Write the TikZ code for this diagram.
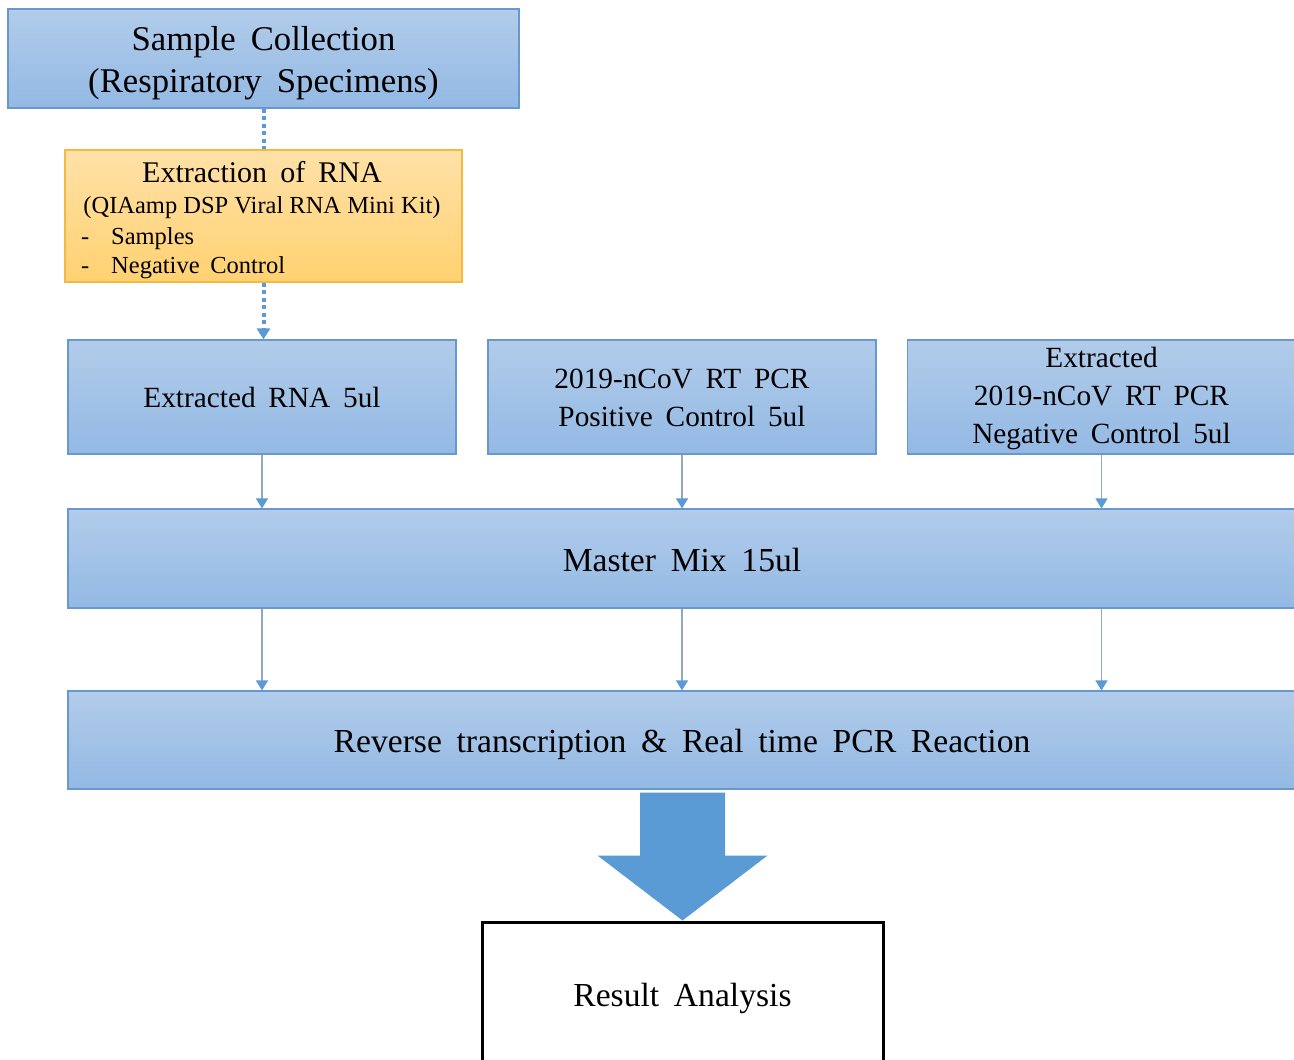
\documentclass[tikz,border=0pt]{standalone}
\usepackage{fontspec}
\setmainfont{Liberation Serif}[WordSpace=1.75]
\newfontfamily\plainserif{Liberation Serif}
\usetikzlibrary{arrows.meta,calc}
\definecolor{boxtop}{RGB}{178,204,234}
\definecolor{boxbot}{RGB}{147,185,228}
\definecolor{boxline}{RGB}{104,152,206}
\definecolor{orgtop}{RGB}{255,225,168}
\definecolor{orgbot}{RGB}{255,209,112}
\definecolor{orgline}{RGB}{244,185,66}
\definecolor{ablue}{RGB}{91,155,213}
\definecolor{cline}{RGB}{145,168,192}
\begin{document}
\begin{tikzpicture}[x=1pt,y=-1pt,
  bluebox/.style={draw=boxline,line width=1.1pt,top color=boxtop,bottom color=boxbot,inner sep=0pt},
  orgbox/.style={draw=orgline,line width=1.1pt,top color=orgtop,bottom color=orgbot,inner sep=0pt},
  boxtxt/.style={inner sep=0pt,align=center,text=black,anchor=center},
  dotconn/.style={ablue,line width=4pt,dash pattern=on 4pt off 3.5pt},
  thinconn/.style={cline,line width=1.2pt,-{Triangle[width=12pt,length=10pt,color=ablue,fill=ablue]}},
  fbig/.style={font=\fontsize{34.7}{42}\selectfont},
  fmid/.style={font=\fontsize{33.6}{40}\selectfont},
  frow/.style={font=\fontsize{29.3}{37.5}\selectfont},
  frow3/.style={font=\fontsize{29.3}{38}\selectfont},
  fsub/.style={font=\fontsize{24.5}{29}\selectfont},
  txt/.style={inner sep=0pt,anchor=base}]
\useasboundingbox (0,0) rectangle (1294,1060);
\fill[white] (0,0) rectangle (1294,1060);

% boxes
\node[bluebox,minimum width=511pt,minimum height=99pt] (sample) at (263.5,58.5) {};
\node[boxtxt,fbig] (sampletxt) at ($(sample.center)+(0,4.5)$) {Sample Collection\\(Respiratory Specimens)};

\node[orgbox,minimum width=397pt,minimum height=132pt] (extract) at (263.5,216) {};
\node[txt,font=\fontsize{30}{34}\selectfont] (extitle) at (262,182) {Extraction of RNA};
\node[txt,fsub] (exkit) at (262,213) {\plainserif (QIAamp DSP Viral RNA Mini Kit)};
\node[txt,fsub,anchor=base west] (exs1) at (81,244) {\makebox[30pt][l]{-}Samples};
\node[txt,fsub,anchor=base west] (exs2) at (81,273) {\makebox[30pt][l]{-}Negative Control};

\node[bluebox,minimum width=388pt,minimum height=114pt] (b1) at (262,397) {};
\node[bluebox,minimum width=388pt,minimum height=114pt] (b2) at (682,397) {};
\node[bluebox,minimum width=388pt,minimum height=114pt] (b3) at (1101.5,397) {};
\node[boxtxt,frow] (b1txt) at ($(b1.center)+(0,0.5)$) {Extracted RNA 5ul};
\node[boxtxt,frow] (b2txt) at ($(b2.center)+(0,1)$) {2019-nCoV RT PCR\\Positive Control 5ul};
\node[boxtxt,frow3] (b3txt) at ($(b3.center)+(0,1.5)$) {Extracted\\2019-nCoV RT PCR\\Negative Control 5ul};

\node[bluebox,minimum width=1228pt,minimum height=99pt] (mm) at (682,558.5) {};
\node[boxtxt,fmid] (mmtxt) at ($(mm.center)+(0,2)$) {Master Mix 15ul};
\node[bluebox,minimum width=1228pt,minimum height=98pt] (rt) at (682,740) {};
\node[boxtxt,fmid] (rttxt) at ($(rt.center)+(0,4)$) {Reverse transcription \& Real time PCR Reaction};

\node[draw=black,line width=3pt,fill=white,minimum width=401pt,minimum height=146pt,inner sep=0pt] (res) at (682.5,995) {};
\node[boxtxt,fmid] (restxt) at ($(res.center)+(0,3)$) {Result Analysis};

% dotted connectors
\draw[dotconn] (sample.south) -- (extract.north);
\draw[dotconn,-{Triangle[width=13pt,length=11pt,fill=ablue,color=ablue]}] (extract.south) -- (extract.south |- b1.north);

% thin connectors
\foreach \b in {b1,b2,b3}{
  \draw[thinconn] (\b.south) -- (\b.south |- mm.north);
  \draw[thinconn] (mm.south -| \b.south) -- (rt.north -| \b.south);
}

% block arrow
\fill[ablue] ($(rt.south -| res.north)+(-42.5,3)$) -- ($(rt.south -| res.north)+(42.5,3)$)
  -- ($(res.north)+(42.5,-65)$) -- ($(res.north)+(85,-65)$) -- (res.north)
  -- ($(res.north)+(-85,-65)$) -- ($(res.north)+(-42.5,-65)$) -- cycle;
\end{tikzpicture}
\end{document}
